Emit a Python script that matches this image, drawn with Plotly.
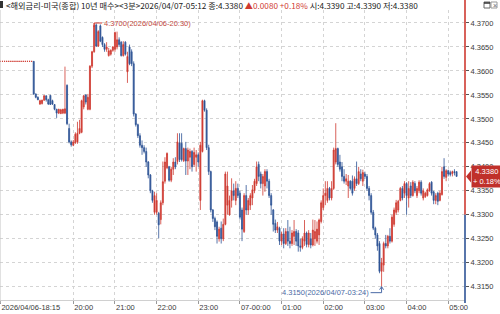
import pandas as pd
import numpy as np
import plotly.graph_objects as go

# ---- data: 3-minute bars, 2026/04/06 18:15 -> 2026/04/07 05:12 ----
times = pd.date_range("2026-04-06 18:15", periods=220, freq="3min")

opens = [
    4.3620, 4.3620, 4.3620, 4.3620, 4.3620, 4.3620, 4.3620, 4.3620, 4.3620, 4.3620,
    4.3620, 4.3620, 4.3620, 4.3620, 4.3620, 4.3620, 4.3620, 4.3552, 4.3545, 4.3531,
    4.3532, 4.3539, 4.3548, 4.3540, 4.3549, 4.3538, 4.3530, 4.3520, 4.3512, 4.3511,
    4.3512, 4.3512, 4.3570, 4.3480, 4.3452, 4.3445, 4.3450, 4.3452, 4.3470, 4.3472,
    4.3525, 4.3550, 4.3520, 4.3520, 4.3610, 4.3640, 4.3696, 4.3652, 4.3694, 4.3670,
    4.3655, 4.3645, 4.3632, 4.3635, 4.3643, 4.3645, 4.3650, 4.3665, 4.3660, 4.3632,
    4.3660, 4.3598, 4.3650, 4.3640, 4.3615, 4.3510, 4.3488, 4.3465, 4.3445, 4.3440,
    4.3432, 4.3410, 4.3383, 4.3350, 4.3305, 4.3305, 4.3303, 4.3290, 4.3325, 4.3370,
    4.3398, 4.3400, 4.3372, 4.3395, 4.3410, 4.3411, 4.3450, 4.3449, 4.3413, 4.3438,
    4.3412, 4.3420, 4.3432, 4.3405, 4.3420, 4.3425, 4.3330, 4.3432, 4.3538, 4.3518,
    4.3440, 4.3390, 4.3310, 4.3292, 4.3285, 4.3250, 4.3272, 4.3250, 4.3280, 4.3320,
    4.3300, 4.3330, 4.3350, 4.3330, 4.3355, 4.3345, 4.3310, 4.3265, 4.3340, 4.3310,
    4.3320, 4.3335, 4.3350, 4.3365, 4.3405, 4.3385, 4.3365, 4.3360, 4.3390, 4.3370,
    4.3340, 4.3310, 4.3282, 4.3268, 4.3272, 4.3245, 4.3260, 4.3240, 4.3265, 4.3245,
    4.3240, 4.3255, 4.3265, 4.3262, 4.3235, 4.3232, 4.3245, 4.3262, 4.3238, 4.3250,
    4.3237, 4.3250, 4.3245, 4.3258, 4.3286, 4.3315, 4.3340, 4.3330, 4.3355, 4.3335,
    4.3355, 4.3410, 4.3438, 4.3410, 4.3400, 4.3380, 4.3370, 4.3360, 4.3370, 4.3370,
    4.3355, 4.3375, 4.3365, 4.3385, 4.3370, 4.3385, 4.3380, 4.3355, 4.3340, 4.3305,
    4.3272, 4.3258, 4.3240, 4.3182, 4.3195, 4.3240, 4.3235, 4.3255, 4.3245, 4.3280,
    4.3305, 4.3310, 4.3330, 4.3355, 4.3345, 4.3365, 4.3335, 4.3360, 4.3340, 4.3365,
    4.3340, 4.3350, 4.3368, 4.3335, 4.3338, 4.3340, 4.3350, 4.3368, 4.3348, 4.3330,
    4.3345, 4.3330, 4.3342, 4.3400, 4.3378, 4.3392, 4.3388, 4.3386, 4.3390, 4.3390,
]

highs = [
    4.3620, 4.3620, 4.3620, 4.3620, 4.3620, 4.3620, 4.3620, 4.3620, 4.3620, 4.3620,
    4.3620, 4.3620, 4.3620, 4.3620, 4.3620, 4.3620, 4.3620, 4.3553, 4.3547, 4.3540,
    4.3540, 4.3550, 4.3549, 4.3542, 4.3550, 4.3540, 4.3531, 4.3521, 4.3521, 4.3521,
    4.3521, 4.3609, 4.3572, 4.3490, 4.3455, 4.3456, 4.3472, 4.3494, 4.3498, 4.3540,
    4.3550, 4.3551, 4.3552, 4.3612, 4.3642, 4.3700, 4.3699, 4.3685, 4.3697, 4.3672,
    4.3658, 4.3660, 4.3648, 4.3645, 4.3652, 4.3682, 4.3682, 4.3670, 4.3662, 4.3662,
    4.3662, 4.3640, 4.3655, 4.3645, 4.3620, 4.3512, 4.3490, 4.3470, 4.3455, 4.3445,
    4.3440, 4.3412, 4.3385, 4.3352, 4.3348, 4.3345, 4.3306, 4.3330, 4.3411, 4.3420,
    4.3430, 4.3402, 4.3400, 4.3418, 4.3420, 4.3470, 4.3470, 4.3470, 4.3440, 4.3452,
    4.3440, 4.3438, 4.3435, 4.3440, 4.3435, 4.3430, 4.3452, 4.3540, 4.3540, 4.3522,
    4.3446, 4.3392, 4.3312, 4.3296, 4.3288, 4.3275, 4.3286, 4.3292, 4.3390, 4.3390,
    4.3340, 4.3376, 4.3365, 4.3370, 4.3365, 4.3350, 4.3315, 4.3345, 4.3362, 4.3335,
    4.3345, 4.3362, 4.3375, 4.3411, 4.3411, 4.3390, 4.3385, 4.3395, 4.3395, 4.3375,
    4.3345, 4.3312, 4.3290, 4.3285, 4.3275, 4.3265, 4.3272, 4.3272, 4.3289, 4.3275,
    4.3268, 4.3289, 4.3270, 4.3268, 4.3250, 4.3255, 4.3289, 4.3265, 4.3268, 4.3262,
    4.3290, 4.3289, 4.3286, 4.3292, 4.3330, 4.3355, 4.3370, 4.3370, 4.3358, 4.3370,
    4.3440, 4.3491, 4.3440, 4.3425, 4.3410, 4.3395, 4.3385, 4.3383, 4.3372, 4.3382,
    4.3380, 4.3411, 4.3400, 4.3395, 4.3394, 4.3390, 4.3385, 4.3360, 4.3345, 4.3310,
    4.3275, 4.3262, 4.3245, 4.3210, 4.3244, 4.3258, 4.3258, 4.3272, 4.3300, 4.3315,
    4.3331, 4.3331, 4.3358, 4.3360, 4.3370, 4.3368, 4.3370, 4.3368, 4.3372, 4.3370,
    4.3360, 4.3372, 4.3372, 4.3355, 4.3348, 4.3355, 4.3368, 4.3370, 4.3350, 4.3345,
    4.3348, 4.3350, 4.3400, 4.3418, 4.3395, 4.3394, 4.3392, 4.3392, 4.3395, 4.3390,
]

lows = [
    4.3620, 4.3620, 4.3620, 4.3620, 4.3620, 4.3620, 4.3620, 4.3620, 4.3620, 4.3620,
    4.3620, 4.3620, 4.3620, 4.3620, 4.3620, 4.3620, 4.3550, 4.3543, 4.3539, 4.3529,
    4.3530, 4.3538, 4.3536, 4.3529, 4.3529, 4.3529, 4.3518, 4.3502, 4.3510, 4.3510,
    4.3510, 4.3510, 4.3487, 4.3449, 4.3442, 4.3443, 4.3448, 4.3448, 4.3468, 4.3470,
    4.3520, 4.3530, 4.3518, 4.3518, 4.3606, 4.3638, 4.3650, 4.3650, 4.3660, 4.3650,
    4.3640, 4.3640, 4.3630, 4.3632, 4.3640, 4.3640, 4.3645, 4.3650, 4.3630, 4.3630,
    4.3632, 4.3575, 4.3612, 4.3610, 4.3505, 4.3484, 4.3460, 4.3440, 4.3425, 4.3428,
    4.3400, 4.3376, 4.3345, 4.3325, 4.3300, 4.3300, 4.3251, 4.3280, 4.3320, 4.3365,
    4.3395, 4.3369, 4.3368, 4.3383, 4.3395, 4.3405, 4.3410, 4.3411, 4.3410, 4.3383,
    4.3383, 4.3395, 4.3390, 4.3400, 4.3390, 4.3400, 4.3310, 4.3430, 4.3515, 4.3435,
    4.3383, 4.3305, 4.3285, 4.3268, 4.3240, 4.3244, 4.3240, 4.3245, 4.3278, 4.3300,
    4.3298, 4.3315, 4.3330, 4.3320, 4.3335, 4.3290, 4.3245, 4.3262, 4.3300, 4.3300,
    4.3310, 4.3320, 4.3345, 4.3360, 4.3370, 4.3355, 4.3340, 4.3348, 4.3355, 4.3335,
    4.3300, 4.3265, 4.3262, 4.3262, 4.3237, 4.3237, 4.3230, 4.3237, 4.3235, 4.3230,
    4.3235, 4.3237, 4.3235, 4.3223, 4.3223, 4.3228, 4.3235, 4.3232, 4.3232, 4.3230,
    4.3234, 4.3235, 4.3240, 4.3237, 4.3282, 4.3310, 4.3320, 4.3325, 4.3330, 4.3330,
    4.3352, 4.3405, 4.3400, 4.3390, 4.3370, 4.3365, 4.3362, 4.3335, 4.3352, 4.3340,
    4.3350, 4.3360, 4.3362, 4.3370, 4.3360, 4.3375, 4.3350, 4.3330, 4.3300, 4.3268,
    4.3250, 4.3225, 4.3178, 4.3150, 4.3181, 4.3230, 4.3230, 4.3240, 4.3242, 4.3275,
    4.3300, 4.3305, 4.3328, 4.3330, 4.3335, 4.3300, 4.3315, 4.3335, 4.3338, 4.3345,
    4.3335, 4.3345, 4.3340, 4.3330, 4.3335, 4.3338, 4.3348, 4.3340, 4.3322, 4.3322,
    4.3320, 4.3328, 4.3340, 4.3375, 4.3370, 4.3380, 4.3380, 4.3380, 4.3382, 4.3380,
]

closes = [
    4.3620, 4.3620, 4.3620, 4.3620, 4.3620, 4.3620, 4.3620, 4.3620, 4.3620, 4.3620,
    4.3620, 4.3620, 4.3620, 4.3620, 4.3620, 4.3620, 4.3552, 4.3545, 4.3540, 4.3538,
    4.3539, 4.3548, 4.3540, 4.3531, 4.3530, 4.3531, 4.3520, 4.3512, 4.3520, 4.3519,
    4.3520, 4.3521, 4.3490, 4.3452, 4.3446, 4.3452, 4.3468, 4.3470, 4.3480, 4.3538,
    4.3548, 4.3535, 4.3545, 4.3610, 4.3640, 4.3695, 4.3652, 4.3682, 4.3662, 4.3655,
    4.3645, 4.3650, 4.3642, 4.3643, 4.3650, 4.3680, 4.3665, 4.3655, 4.3632, 4.3655,
    4.3635, 4.3630, 4.3615, 4.3615, 4.3510, 4.3488, 4.3465, 4.3445, 4.3440, 4.3432,
    4.3410, 4.3383, 4.3350, 4.3330, 4.3340, 4.3330, 4.3279, 4.3325, 4.3369, 4.3410,
    4.3428, 4.3372, 4.3395, 4.3410, 4.3400, 4.3452, 4.3415, 4.3415, 4.3438, 4.3412,
    4.3435, 4.3432, 4.3400, 4.3430, 4.3425, 4.3410, 4.3445, 4.3538, 4.3518, 4.3440,
    4.3390, 4.3310, 4.3292, 4.3275, 4.3255, 4.3270, 4.3250, 4.3280, 4.3385, 4.3360,
    4.3330, 4.3350, 4.3340, 4.3355, 4.3340, 4.3295, 4.3270, 4.3340, 4.3310, 4.3330,
    4.3340, 4.3352, 4.3370, 4.3400, 4.3380, 4.3365, 4.3380, 4.3390, 4.3370, 4.3340,
    4.3320, 4.3280, 4.3268, 4.3275, 4.3245, 4.3260, 4.3240, 4.3265, 4.3245, 4.3240,
    4.3262, 4.3265, 4.3245, 4.3235, 4.3232, 4.3250, 4.3262, 4.3238, 4.3262, 4.3237,
    4.3268, 4.3265, 4.3270, 4.3289, 4.3325, 4.3340, 4.3345, 4.3355, 4.3335, 4.3355,
    4.3435, 4.3438, 4.3405, 4.3395, 4.3380, 4.3370, 4.3375, 4.3370, 4.3355, 4.3345,
    4.3375, 4.3365, 4.3390, 4.3375, 4.3388, 4.3380, 4.3355, 4.3340, 4.3305, 4.3272,
    4.3258, 4.3235, 4.3182, 4.3200, 4.3240, 4.3235, 4.3255, 4.3245, 4.3295, 4.3310,
    4.3325, 4.3328, 4.3355, 4.3335, 4.3365, 4.3340, 4.3355, 4.3340, 4.3368, 4.3350,
    4.3355, 4.3368, 4.3345, 4.3350, 4.3345, 4.3352, 4.3365, 4.3345, 4.3330, 4.3340,
    4.3328, 4.3345, 4.3390, 4.3380, 4.3392, 4.3385, 4.3384, 4.3390, 4.3388, 4.3380,
]

prev_close = 4.3300

x_tick_times = ["2026-04-06 18:15", "2026-04-06 20:00", "2026-04-06 21:00",
                "2026-04-06 22:00", "2026-04-06 23:00", "2026-04-07 00:00",
                "2026-04-07 01:00", "2026-04-07 02:00", "2026-04-07 03:00",
                "2026-04-07 04:00", "2026-04-07 05:00"]
x_tick_text = ["2026/04/06-18:15", "20:00", "21:00", "22:00", "23:00", "07-00:00",
               "01:00", "02:00", "03:00", "04:00", "05:00"]
y_ticks = [4.3150, 4.3200, 4.3250, 4.3300, 4.3350, 4.3400, 4.3450,
           4.3500, 4.3550, 4.3600, 4.3650, 4.3700]

# ---- styling ----
RED = "#cf3a31"
BLUE = "#2f5496"
GRID = "#d4d4d4"
TXT = "#3a3a3a"
FONT = "Liberation Sans"
ylo, yhi = 4.31222, 4.37271
xlo, xhi = "2026-04-06 18:14:26", "2026-04-07 05:24:09"

fig = go.Figure(go.Candlestick(
    x=times, open=opens, high=highs, low=lows, close=closes,
    increasing=dict(line=dict(color=RED, width=0.8), fillcolor=RED),
    decreasing=dict(line=dict(color=BLUE, width=0.8), fillcolor=BLUE),
    whiskerwidth=0, hoverinfo="skip", showlegend=False,
))

fig.update_layout(
    width=500, height=314,
    margin=dict(l=0, r=35, t=10, b=14),
    paper_bgcolor="white", plot_bgcolor="white",
    font=dict(family=FONT, size=8, color=TXT),
    xaxis=dict(
        type="date", range=[xlo, xhi], rangeslider=dict(visible=False),
        tickvals=x_tick_times, ticktext=x_tick_text,
        ticklabelposition="outside right", ticks="outside", ticklen=3,
        tickcolor="#999", tickfont=dict(size=7.5, color=TXT, family=FONT),
        showgrid=True, gridcolor=GRID, griddash="dot", gridwidth=1,
        zeroline=False, showline=True, linecolor="#d0d0d0", linewidth=1,
    ),
    yaxis=dict(
        side="right", range=[ylo, yhi], tickvals=y_ticks, tickformat=".4f",
        ticks="outside", ticklen=3, tickcolor="#555",
        tickfont=dict(size=7.5, color=TXT, family=FONT),
        showgrid=True, gridcolor=GRID, griddash="dot", gridwidth=1,
        zeroline=False, showline=False,
    ),
)

split = (prev_close - ylo) / (yhi - ylo)
shapes = [
    # left border
    dict(type="line", xref="paper", yref="paper", x0=0, x1=0, y0=-0.01, y1=1.0,
         line=dict(color="#c4c4c4", width=1)),
    # right axis line, red above previous close, blue below
    dict(type="line", xref="paper", yref="paper", x0=1, x1=1, y0=split, y1=1.04,
         line=dict(color=RED, width=1.6)),
    dict(type="line", xref="paper", yref="paper", x0=1, x1=1, y0=-0.01, y1=split,
         line=dict(color=BLUE, width=1.6)),
    # header marker
    dict(type="rect", xref="paper", yref="paper", xsizemode="pixel", ysizemode="pixel",
         xanchor=0, yanchor=1, x0=0, x1=3, y0=2, y1=9,
         fillcolor="#333", line=dict(width=0)),
    # window buttons
    dict(type="rect", xref="paper", yref="paper", xsizemode="pixel", ysizemode="pixel",
         xanchor=1, yanchor=1, x0=19, x1=25, y0=2, y1=8,
         fillcolor="white", line=dict(color="#666", width=1)),
    dict(type="line", xref="paper", yref="paper", xsizemode="pixel", ysizemode="pixel",
         xanchor=1, yanchor=1, x0=19, x1=25, y0=7, y1=7,
         line=dict(color="#333", width=1.5)),
    dict(type="rect", xref="paper", yref="paper", xsizemode="pixel", ysizemode="pixel",
         xanchor=1, yanchor=1, x0=26, x1=32, y0=2, y1=8,
         fillcolor="white", line=dict(color="#999", width=1)),
]

# price tag pointer
last_close = closes[-1]
shapes.append(dict(type="path", xref="paper", yref="y", xsizemode="pixel",
                   ysizemode="pixel", xanchor=1, yanchor=last_close,
                   path="M 1,0 L 6,6 L 6,-6 Z", fillcolor="#c0302b",
                   line=dict(width=0)))

# max / min markers
hi_i = int(np.argmax(highs))
lo_i = int(np.argmin(lows))
hi_t, lo_t = times[hi_i], times[lo_i]
shapes.append(dict(type="path", xref="x", yref="y", xsizemode="pixel", ysizemode="pixel",
                   xanchor=hi_t, yanchor=highs[hi_i],
                   path="M 0,-4 L 0,0 L 8,0", line=dict(color=RED, width=1)))
shapes.append(dict(type="path", xref="x", yref="y", xsizemode="pixel", ysizemode="pixel",
                   xanchor=lo_t, yanchor=lows[lo_i],
                   path="M -11,-6 L 0,-6 L 0,0 M -2,-3 L 0,0 L 2,-3",
                   line=dict(color="#4a6aa5", width=1)))
fig.update_layout(shapes=shapes)

chg = last_close - prev_close
pct = chg / prev_close * 100
last_t = times[-1]
header = (f"&lt;해외금리-미국(종합) 10년 매수&gt;&lt;3분&gt;{last_t:%Y/%m/%d-%H:%M} "
          f"종:{last_close:.4f} <span style='color:{RED}'>▲{chg:.4f} +{pct:.2f}%</span> "
          f"시:{opens[-1]:.4f} 고:{highs[-1]:.4f} 저:{lows[-1]:.4f}")

annotations = [
    dict(xref="paper", yref="paper", x=0, y=1, xanchor="left", yanchor="middle",
         xshift=4, yshift=5, showarrow=False, text=header,
         font=dict(family="Noto Sans CJK KR", size=8.2, color="#222")),
    dict(xref="paper", yref="y", x=1, y=last_close, xanchor="left", yanchor="middle",
         xshift=6, showarrow=False, align="center", bgcolor="#c0302b",
         borderpad=1, width=28,
         text=f"{last_close:.4f}<br>+ {pct:.2f}%",
         font=dict(family=FONT, size=7.5, color="white")),
    dict(xref="x", yref="y", x=hi_t, y=highs[hi_i], xanchor="left", yanchor="middle",
         xshift=8, yshift=-1, showarrow=False,
         text=f"{highs[hi_i]:.4f}({hi_t:%Y/%m/%d-%H:%M})",
         font=dict(family=FONT, size=7.5, color="#c24a40")),
    dict(xref="x", yref="y", x=lo_t, y=lows[lo_i], xanchor="right", yanchor="middle",
         xshift=-11, yshift=-6, showarrow=False,
         text=f"{lows[lo_i]:.4f}({lo_t:%Y/%m/%d-%H:%M})",
         font=dict(family=FONT, size=7.5, color="#4a6aa5")),
    dict(xref="paper", yref="paper", x=1, y=1, xanchor="left", yanchor="middle",
         xshift=26, yshift=5, showarrow=False, text="×",
         font=dict(family=FONT, size=7, color="#666")),
]
fig.update_layout(annotations=annotations)

fig.write_html("out.html")
